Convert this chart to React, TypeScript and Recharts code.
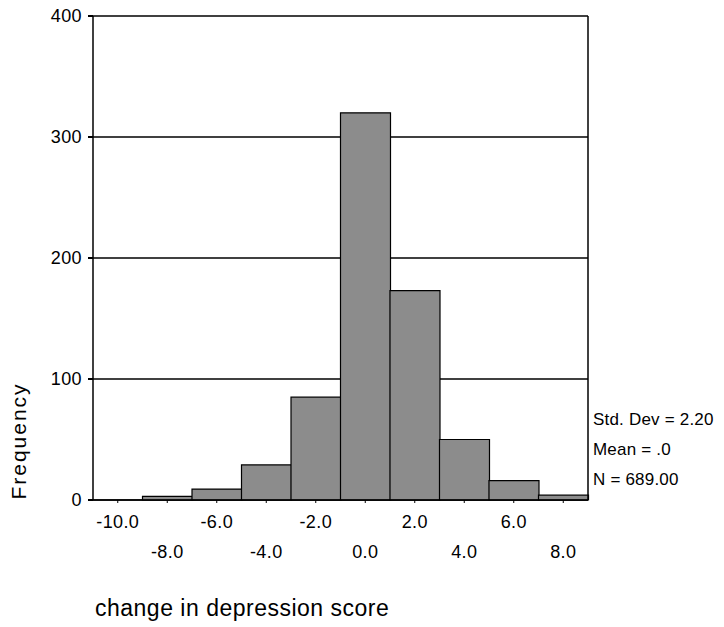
import { BarChart, Bar, XAxis, YAxis, CartesianGrid, Label } from "recharts";

// histogram bins (midpoints) and frequencies
const binLabels = ["-10.0", "-8.0", "-6.0", "-4.0", "-2.0", "0.0", "2.0", "4.0", "6.0", "8.0"];
const frequencies = [0, 3, 9, 29, 85, 320, 173, 50, 16, 4];
const yTicks = [0, 100, 200, 300, 400];
const statLines = ["Std. Dev = 2.20", "Mean = .0", "N = 689.00"];

const FONT = '"Liberation Sans", Arial, sans-serif';

const data = binLabels.map((bin, i) => ({ bin, count: frequencies[i] }));

// x labels alternate between two rows
function XTick(props: any) {
  const { x, y, payload, index } = props;
  const row = index % 2 === 0 ? 0 : 1;
  return (
    <text
      x={x}
      y={y + 17 + row * 30}
      textAnchor="middle"
      dominantBaseline="central"
      fontFamily={FONT}
      fontSize={18}
      letterSpacing={0.4}
      fill="#000"
    >
      {payload.value}
    </text>
  );
}

function YTick(props: any) {
  const { x, y, payload } = props;
  return (
    <text
      x={x - 4}
      y={y}
      textAnchor="end"
      dominantBaseline="central"
      fontFamily={FONT}
      fontSize={18}
      letterSpacing={0.4}
      fill="#000"
    >
      {payload.value}
    </text>
  );
}

export default function App() {
  return (
    <div style={{ position: "absolute", left: 0, top: 0, width: 724, height: 627, background: "#fff" }}>
      <BarChart
        width={724}
        height={627}
        data={data}
        margin={{ top: 16, right: 135, bottom: 0, left: 0 }}
        barCategoryGap={0}
      >
        <CartesianGrid yAxisId="left" vertical={false} stroke="#000" strokeWidth={1.5} />
        <XAxis
          dataKey="bin"
          height={127}
          interval={0}
          tickSize={3}
          tickLine={{ stroke: "#000" }}
          axisLine={{ stroke: "#000", strokeWidth: 1.5 }}
          tick={<XTick />}
        >
          <Label
            content={(p: any) => (
              <text
                x={p.viewBox.x + 2}
                y={608}
                dominantBaseline="central"
                fontFamily={FONT}
                fontSize={23}
                letterSpacing={0.5}
                fill="#000"
              >
                change in depression score
              </text>
            )}
          />
        </XAxis>
        <YAxis
          yAxisId="left"
          width={93}
          domain={[0, 400]}
          ticks={yTicks}
          interval={0}
          tickSize={5}
          tickLine={{ stroke: "#000", strokeWidth: 2 }}
          axisLine={{ stroke: "#000", strokeWidth: 1.5 }}
          tick={<YTick />}
        >
          <Label
            content={() => (
              <text
                x={18}
                y={441}
                transform="rotate(-90 18 441)"
                textAnchor="middle"
                dominantBaseline="central"
                fontFamily={FONT}
                fontSize={21}
                letterSpacing={2}
                fill="#000"
              >
                Frequency
              </text>
            )}
          />
        </YAxis>
        <YAxis
          yAxisId="right"
          orientation="right"
          width={1}
          domain={[0, 400]}
          tick={false}
          tickLine={false}
          axisLine={{ stroke: "#000", strokeWidth: 1.5 }}
        />
        <Bar
          yAxisId="left"
          dataKey="count"
          fill="#8c8c8c"
          stroke="#000"
          strokeWidth={1.2}
          isAnimationActive={false}
        />
      </BarChart>
      <div
        style={{
          position: "absolute",
          left: 593,
          top: 405,
          fontFamily: FONT,
          fontSize: 17,
          letterSpacing: 0.2,
          lineHeight: "30px",
          color: "#000",
          whiteSpace: "nowrap",
        }}
      >
        {statLines.map((s) => (
          <div key={s}>{s}</div>
        ))}
      </div>
    </div>
  );
}
